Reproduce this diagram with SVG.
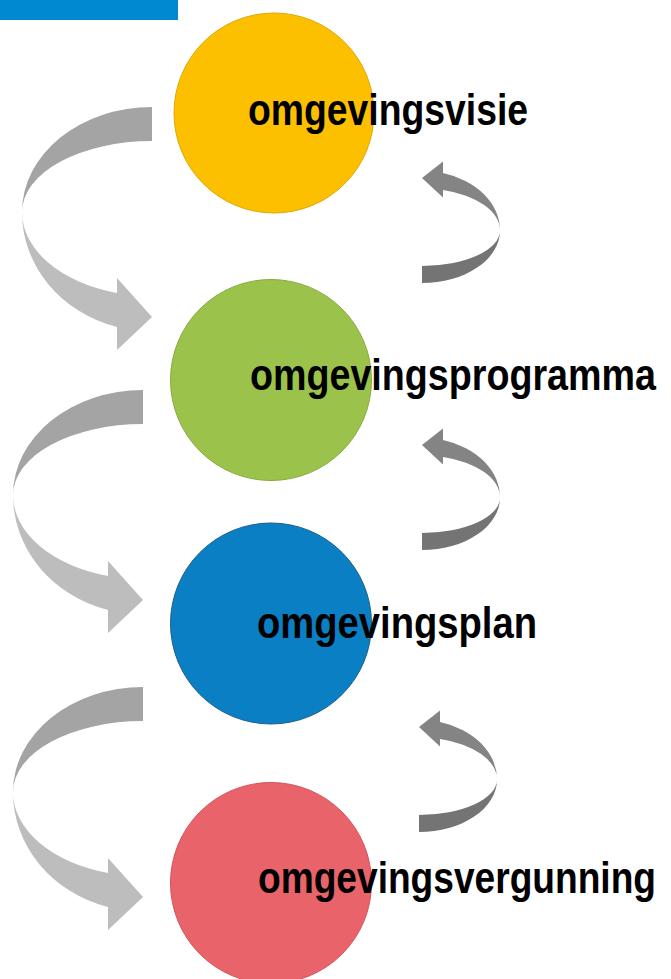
<svg xmlns="http://www.w3.org/2000/svg" xmlns:xlink="http://www.w3.org/1999/xlink" width="671" height="979" viewBox="0 0 671 979">
<style>
.lbl{font-family:"Liberation Sans",Arial,sans-serif;font-size:44px;font-weight:bold;fill:#000}
.lb{fill:#a4a4a4}.lf{fill:#bdbdbd}
.rb{fill:#747474}.rf{fill:#848484}
</style>
<defs>
<path id="back" d="M0,0 A130,105 0 0 0 -130,105 A130,71 0 0 1 0,34 Z"/>
<path id="front" d="M-130,105 A130,119 0 0 0 -35,220 L-35,243 L0,210 L-35,171 L-35,186 A130,84 0 0 1 -130,105 Z"/>
</defs>
<rect x="0" y="0" width="178" height="20" fill="#0088d1"/>
<g id="connectors">
<g transform="translate(152,107)"><use href="#back" class="lb"/><use href="#front" class="lf"/></g>
<g transform="translate(143,390)"><use href="#back" class="lb"/><use href="#front" class="lf"/></g>
<g transform="translate(143,687)"><use href="#back" class="lb"/><use href="#front" class="lf"/></g>
<g transform="translate(422,283) rotate(180) scale(0.6,0.5)"><use href="#back" class="rb"/><use href="#front" class="rf"/></g>
<g transform="translate(422,550) rotate(180) scale(0.6,0.5)"><use href="#back" class="rb"/><use href="#front" class="rf"/></g>
<g transform="translate(419,832) rotate(180) scale(0.6,0.5)"><use href="#back" class="rb"/><use href="#front" class="rf"/></g>
</g>
<g id="node-visie">
<circle cx="274" cy="113" r="100" fill="#fcc000" stroke="#e0a800" stroke-width="1"/>
<text class="lbl" transform="translate(248,125) scale(0.86,1)" x="0" y="0" textLength="325.6" lengthAdjust="spacingAndGlyphs">omgevingsvisie</text>
</g>
<g id="node-programma">
<circle cx="271" cy="380" r="100.5" fill="#9bc34c" stroke="#86ab3c" stroke-width="1"/>
<text class="lbl" transform="translate(250,390) scale(0.86,1)" x="0" y="0" textLength="472" lengthAdjust="spacingAndGlyphs">omgevingsprogramma</text>
</g>
<g id="node-plan">
<circle cx="271" cy="623.5" r="100.5" fill="#0b7fc4" stroke="#1c5f8c" stroke-width="1"/>
<text class="lbl" transform="translate(257,638) scale(0.86,1)" x="0" y="0" textLength="325.6" lengthAdjust="spacingAndGlyphs">omgevingsplan</text>
</g>
<g id="node-vergunning">
<circle cx="271" cy="883" r="100.5" fill="#e9636a" stroke="#d45259" stroke-width="1"/>
<text class="lbl" transform="translate(258,893) scale(0.86,1)" x="0" y="0" textLength="462.8" lengthAdjust="spacingAndGlyphs">omgevingsvergunning</text>
</g>
</svg>
